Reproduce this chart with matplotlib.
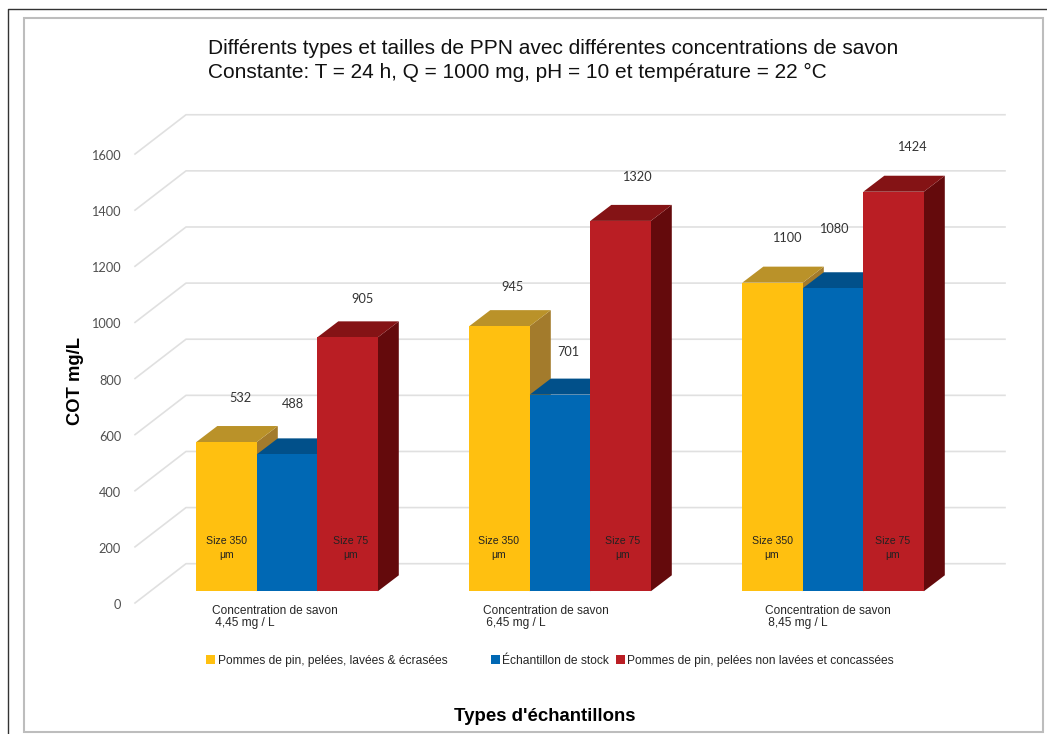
import matplotlib
matplotlib.use('Agg')
import matplotlib.pyplot as plt
from matplotlib.patches import Polygon, Rectangle
from matplotlib.transforms import blended_transform_factory

plt.rcParams['font.family'] = ['Liberation Sans', 'DejaVu Sans']

# Values
conc_labels = ['Concentration de savon\n 4,45 mg / L',
               'Concentration de savon\n 6,45 mg / L',
               'Concentration de savon\n 8,45 mg / L']
yellow_vals = [532, 945, 1100]
blue_vals = [488, 701, 1080]
red_vals = [905, 1320, 1424]
y_ticks = [0, 200, 400, 600, 800, 1000, 1200, 1400, 1600]
legend_labels = ['Pommes de pin, pelées, lavées & écrasées',
                 'Échantillon de stock',
                 'Pommes de pin, pelées non lavées et concassées']
title_lines = ['Différents types et tailles de PPN avec différentes concentrations de savon',
               'Constante: T = 24 h, Q = 1000 mg, pH = 10 et température = 22 °C']

W, H = 1047, 734
PX_PER_UNIT = 0.2806   # pixels for one mg/L
BASE_Y = 591.3         # pixel row of the bar bottoms
GROUP_X = 196.3        # left edge of first bar
GROUP_STEP = 273.0
BAR_W = 60.5 / GROUP_STEP
DEPTH_X = 21 / GROUP_STEP
DEPTH_Y = 16 / PX_PER_UNIT

series = [
    (yellow_vals, '#FFC010', '#BA9229', '#A37B2C'),
    (blue_vals, '#0068B4', '#01508A', '#014C84'),
    (red_vals, '#BA1E24', '#841315', '#640A0C'),
]

fig = plt.figure(figsize=(W / 100, H / 100), dpi=100)

# pixel axes for frames and texts
pix = fig.add_axes([0, 0, 1, 1])
pix.set_xlim(0, W)
pix.set_ylim(H, 0)
pix.axis('off')

# data axes, same area, for grid and bars
ax = fig.add_axes([0, 0, 1, 1])
ax.set_xlim(-GROUP_X / GROUP_STEP, (W - GROUP_X) / GROUP_STEP)
ax.set_ylim((BASE_Y - H) / PX_PER_UNIT, BASE_Y / PX_PER_UNIT)
ax.axis('off')
ax.patch.set_alpha(0)

# frames
pix.plot([7.5, 7.5, W], [H, 9, 9], color='#333333', lw=1)
pix.add_patch(Rectangle((24, 18), 1019, 714, fill=False, ec='#BDBDBD', lw=1.5))

# grid with the 3D floor/wall step, y in mg/L and x in pixels
trans = blended_transform_factory(pix.transData, ax.transData)
front_off = (BASE_Y - 603) / PX_PER_UNIT
back_off = (BASE_Y - 563.7) / PX_PER_UNIT
for v in y_ticks:
    ax.plot([135, 186, 1005], [v + front_off, v + back_off, v + back_off],
            color='#E0E0E0', lw=1.2, transform=trans, zorder=1)
    ax.text(121, v + (BASE_Y - 605) / PX_PER_UNIT, str(v), transform=trans,
            family='Lato', fontsize=9.2, color='#505050', ha='right', va='center')

# bars, left to right so each one hides the side of the one before
z = 2
for g in range(3):
    for s, (vals, front, top, side) in enumerate(series):
        v = vals[g]
        x0 = g + s * BAR_W
        x1 = x0 + BAR_W
        ax.add_patch(Polygon([(x1, 0), (x1 + DEPTH_X, DEPTH_Y), (x1 + DEPTH_X, v + DEPTH_Y), (x1, v)],
                             fc=side, ec='none', zorder=z))
        ax.add_patch(Polygon([(x0, v), (x1, v), (x1 + DEPTH_X, v + DEPTH_Y), (x0 + DEPTH_X, v + DEPTH_Y)],
                             fc=top, ec='none', zorder=z))
        ax.bar(x0, v, BAR_W, align='edge', color=front, zorder=z + 0.5)
        z += 1

# value labels, pixel positions
label_pos = [[(240, 398), (293, 404), (362, 299)],
             [(513, 287), (568, 352), (637, 177)],
             [(787, 238), (834, 229), (912, 147)]]
all_vals = [yellow_vals, blue_vals, red_vals]
for g in range(3):
    for s in range(3):
        px, py = label_pos[g][s]
        pix.text(px, py, str(all_vals[s][g]), family='Lato', fontsize=9.2, color='#333333',
                 ha='center', va='center', zorder=50)

pix.set_zorder(3)
ax.set_zorder(2)
fig.patch.set_facecolor('white')

# size notes inside the bars
for x_y, x_r in zip([226.5, 499, 772], [350.5, 623, 893]):
    pix.text(x_y, 541.5, 'Size 350', fontsize=7.6, color='#222222', ha='center', va='center')
    pix.text(x_y, 555.5, 'μm', fontsize=7.4, color='#222222', ha='center', va='center')
    pix.text(x_r, 541.5, 'Size 75', fontsize=7.6, color='#222222', ha='center', va='center')
    pix.text(x_r, 555.5, 'μm', fontsize=7.4, color='#222222', ha='center', va='center')

# category labels
for lab, x0 in zip(conc_labels, [212, 483, 765]):
    pix.text(x0, 617, lab, fontsize=8.6, color='#262626', ha='left', va='center', linespacing=1.1)

# legend
leg_x = [(205.5, 217.5), (491, 502.5), (616, 627)]
for (bx, tx), lab, (vals, front, top, side) in zip(leg_x, legend_labels, series):
    pix.add_patch(Rectangle((bx, 655), 9, 9, fc=front, ec='none'))
    pix.text(tx, 661, lab, fontsize=8.65, color='#262626', ha='left', va='center')

# titles
pix.text(208, 48.5, title_lines[0], fontsize=15.05, color='#111111', ha='left', va='center')
pix.text(208, 72.5, title_lines[1], fontsize=15.05, color='#111111', ha='left', va='center')
pix.text(75, 381, 'COT mg/L', fontsize=13.2, fontweight='bold', color='black',
         rotation=90, ha='center', va='center')
pix.text(545, 716.5, "Types d'échantillons", fontsize=13.4, fontweight='bold', color='black',
         ha='center', va='center')

fig.savefig('out.png', dpi=100)
